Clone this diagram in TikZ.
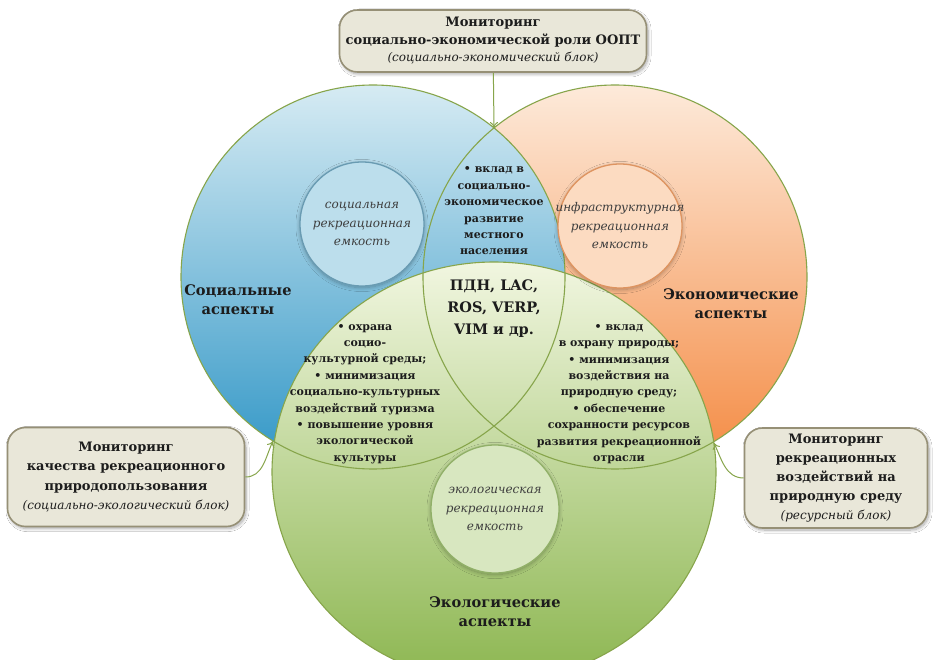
\documentclass[tikz,border=0pt]{standalone}
\usepackage{fontspec}
\setmainfont{DejaVu Serif}
\usetikzlibrary{positioning}
\usetikzlibrary{arrows.meta}
\usetikzlibrary{shadows.blur}

\definecolor{ringline}{RGB}{135,165,75}
\definecolor{socialtop}{RGB}{214,235,243}
\definecolor{socialbot}{RGB}{48,150,198}
\definecolor{econtop}{RGB}{253,234,218}
\definecolor{econbot}{RGB}{244,138,66}
\definecolor{ecoltop}{RGB}{241,246,224}
\definecolor{ecolbot}{RGB}{140,182,80}
\definecolor{socialcapfill}{RGB}{188,222,236}
\definecolor{socialcapline}{RGB}{105,155,178}
\definecolor{econcapfill}{RGB}{252,219,193}
\definecolor{econcapline}{RGB}{222,148,96}
\definecolor{ecolcapfill}{RGB}{216,231,192}
\definecolor{ecolcapline}{RGB}{145,176,104}
\definecolor{boxfill}{RGB}{233,231,217}
\definecolor{boxline}{RGB}{150,144,118}
\definecolor{ink}{RGB}{28,28,28}
\definecolor{capink}{RGB}{62,62,62}

\newcommand{\blocktag}[1]{{\mdseries\itshape\fontsize{12}{19}\selectfont #1}}

\tikzset{
  ring/.style={draw=ringline, line width=1.1pt},
  aspect/.style={align=center, text=ink, font=\fontsize{14.6}{19}\selectfont\bfseries},
  overlap/.style={align=center, text=ink, font=\fontsize{11}{16.4}\selectfont\bfseries},
  capacity/.style={circle, line width=1.3pt, minimum size=124pt, inner sep=0pt,
    blur shadow={shadow xshift=0pt, shadow yshift=-1.5pt, shadow scale=1.0, shadow opacity=30,
      shadow blur radius=4pt, shadow blur steps=24}},
  captext/.style={align=center, text=capink, font=\fontsize{12}{18.5}\selectfont\itshape},
  monitor/.style={rectangle, rounded corners=18pt, draw=boxline, line width=1.6pt, fill=boxfill,
    align=center, text=ink, inner sep=0pt, font=\fontsize{13}{19.5}\selectfont\bfseries,
    blur shadow={shadow xshift=1.5pt, shadow yshift=-2pt, shadow opacity=35, shadow blur radius=3pt, shadow blur steps=16}},
  feed/.style={draw=ringline, line width=1pt, -{To[length=6pt, width=8pt]}}
}

\begin{document}
\begin{tikzpicture}[x=1pt, y=-1pt]
  \useasboundingbox (0,0) rectangle (935,660);
  \fill[white] (0,0) rectangle (935,660);

  % three aspects
  \shade[top color=econtop, bottom color=econbot] (615,277) circle [radius=192];
  \shade[top color=socialtop, bottom color=socialbot] (373,277) circle [radius=192];
  \shade[top color=ecoltop, bottom color=ecolbot] (494,472) ellipse [x radius=222, y radius=210];
  \draw[ring] (615,277) circle [radius=192];
  \draw[ring] (373,277) circle [radius=192];
  \draw[ring] (494,472) ellipse [x radius=222, y radius=210];

  % recreational capacities
  \node[capacity, draw=socialcapline, fill=socialcapfill] (socialcap) at (362,224) {};
  \node[captext] (socialcaptext) at (socialcap) {социальная\\рекреационная\\емкость};
  \node[capacity, draw=econcapline, fill=econcapfill] (econcap) at (620,226) {};
  \node[captext] (econcaptext) at (econcap) {инфраструктурная\\рекреационная\\емкость};
  \node[capacity, draw=ecolcapline, fill=ecolcapfill, minimum size=128pt] (ecolcap) at (495,509) {};
  \node[captext] (ecolcaptext) at (ecolcap) {экологическая\\рекреационная\\емкость};

  % aspect labels
  \node[aspect] (sociallabel) at (238,300) {Социальные\\аспекты};
  \node[aspect] (econlabel) at (731,304) {Экономические\\аспекты};
  \node[aspect] (ecollabel) at (495,612) {Экологические\\аспекты};

  % overlaps
  \node[overlap] (socecon) at (494,211) {• вклад в\\социально-\\экономическое\\развитие\\местного\\населения};
  \node[overlap] (socecol) at (365,394) {• охрана\\социо-\\культурной среды;\\• минимизация\\социально-культурных\\воздействий туризма\\• повышение уровня\\экологической\\культуры};
  \node[overlap] (econecol) at (619,394) {• вклад\\в охрану природы;\\• минимизация\\воздействия на\\природную среду;\\• обеспечение\\сохранности ресурсов\\развития рекреационной\\отрасли};
  \node[align=center, text=ink, font=\fontsize{14.5}{22}\selectfont\bfseries] (methods) at (494,309) {ПДН, LAC,\\ROS, VERP,\\VIM и др.};

  % monitoring blocks
  \node[monitor, minimum width=307pt, minimum height=62pt, font=\fontsize{13}{17.5}\selectfont\bfseries] (topbox) at (493,41) {Мониторинг\\социально-экономической роли ООПТ\\\blocktag{(социально-экономический блок)}};
  \node[monitor, minimum width=237pt, minimum height=99pt] (leftbox) at (126,477) {Мониторинг\\качества рекреационного\\природопользования\\\blocktag{(социально-экологический блок)}};
  \node[monitor, minimum width=183pt, minimum height=100pt, font=\fontsize{13}{19}\selectfont\bfseries] (rightbox) at (836,478) {Мониторинг\\рекреационных\\воздействий на\\природную среду\\\blocktag{(ресурсный блок)}};

  % connectors
  \coordinate (topcross) at (494,128);
  \coordinate (leftcross) at (273,441);
  \coordinate (rightcross) at (714,443);
  \draw[feed] (topbox) -- (topcross);
  \draw[feed] (leftbox.east) to[out=0, in=245] (leftcross);
  \draw[feed] (rightbox.west) to[out=180, in=-65] (rightcross);
\end{tikzpicture}
\end{document}
